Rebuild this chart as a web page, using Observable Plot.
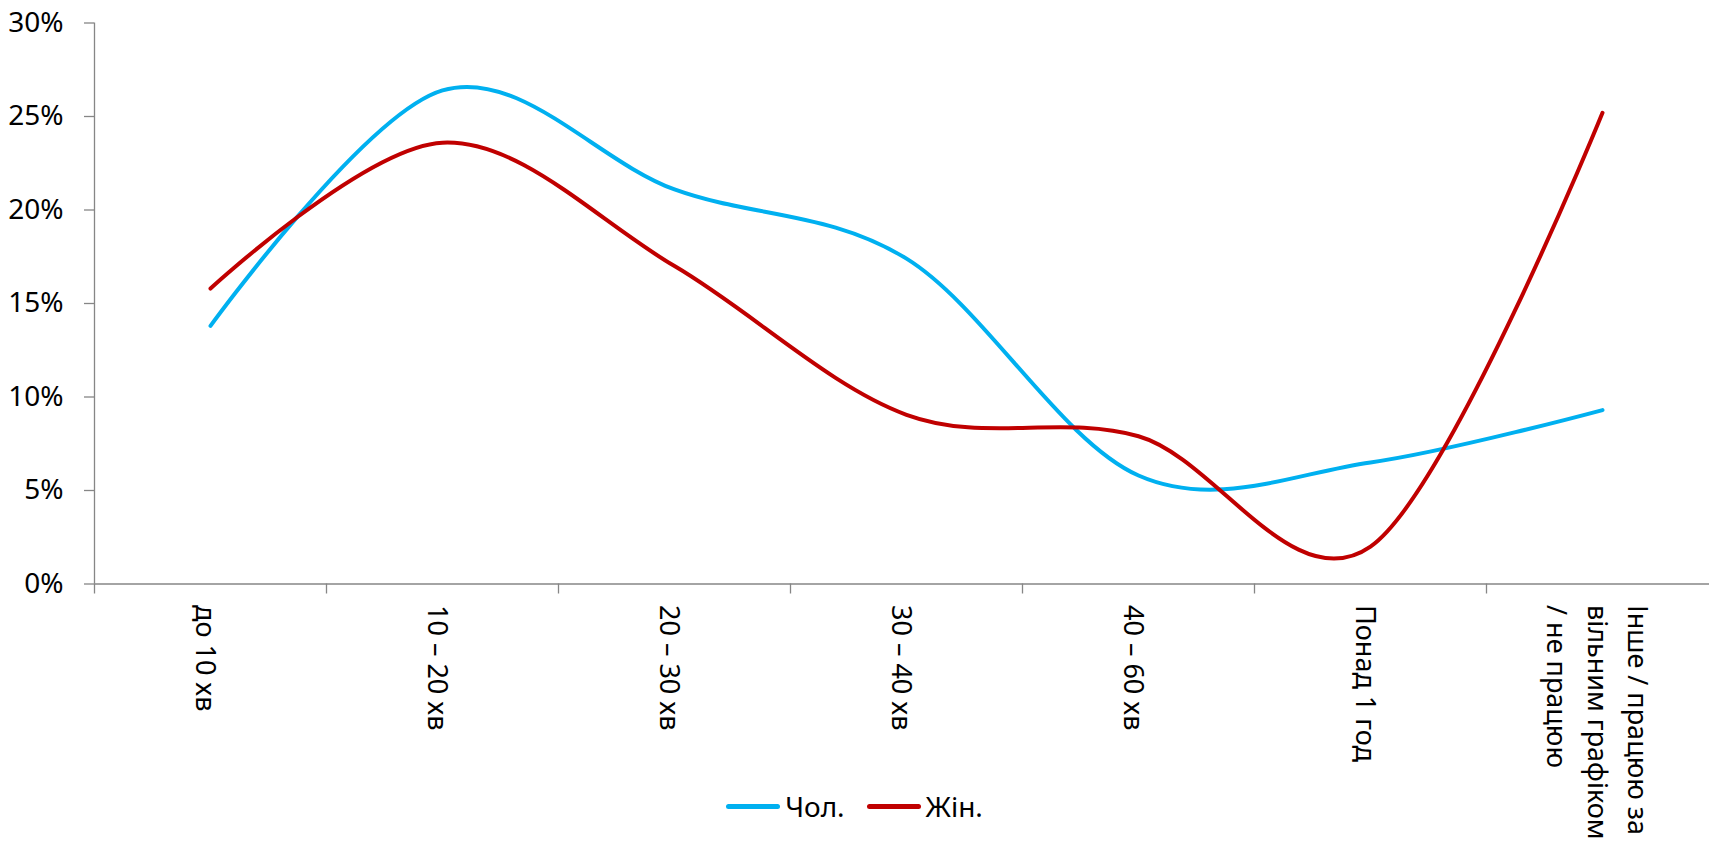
<!DOCTYPE html>
<html>
<head>
<meta charset="utf-8">
<script src="https://cdn.jsdelivr.net/npm/d3@7"></script>
<script src="https://cdn.jsdelivr.net/npm/@observablehq/plot@0.6"></script>
<style>
  html, body { margin: 0; padding: 0; background: #fff; }
  #wrap { position: relative; width: 1709px; height: 845px; font-family: "Noto Sans", sans-serif; }
  #legend { position: absolute; left: 0; top: 786px; width: 1709px; height: 40px;
            display: flex; justify-content: center; align-items: center; font-size: 28px; color: #000; }
  .item { display: flex; align-items: center; margin: 0 11px; }
  .sw { width: 54px; height: 5px; border-radius: 3px; margin-right: 5px; }
</style>
</head>
<body>
<div id="wrap">
  <div id="chart"></div>
  <div id="legend"></div>
</div>
<script>
const categories = [
  "до 10 хв",
  "10 – 20 хв",
  "20 – 30 хв",
  "30 – 40 хв",
  "40 – 60 хв",
  "Понад 1 год",
  "Інше / працюю за\nвільним графіком\n/ не працюю"
];
const seriesNames = ["Чол.", "Жін."];
const male = [13.8, 26.4, 21.1, 17.4, 5.8, 6.5, 9.3];
const female = [15.8, 23.6, 17.0, 9.05, 7.9, 2.0, 25.2];
const seriesColors = ["#00B0F0", "#C00000"];
const yTicks = [0, 5, 10, 15, 20, 25, 30];

const rows = [
  ...male.map((v, i) => ({i, v, s: seriesNames[0]})),
  ...female.map((v, i) => ({i, v, s: seriesNames[1]}))
];

const axisGray = "#868686";

const chart = Plot.plot({
  width: 1709,
  height: 845,
  marginLeft: 94,
  marginRight: 0,
  marginTop: 22.5,
  marginBottom: 261.5,
  style: {fontFamily: "'Noto Sans', sans-serif", fontSize: "28px", color: "#000", background: "#fff"},
  x: {type: "linear", domain: [0, categories.length], range: [94, 94 + 232 * categories.length]},
  y: {domain: [0, 30]},
  color: {domain: seriesNames, range: seriesColors},
  marks: [
    Plot.ruleY([0], {stroke: axisGray, strokeWidth: 1.3}),
    Plot.ruleX([0], {stroke: axisGray, strokeWidth: 1.3}),
    Plot.axisY({ticks: yTicks, tickSize: 10, tickPadding: 21, tickFormat: d => d + "%",
                stroke: axisGray, fill: "#000", fontSize: 28, label: null, strokeWidth: 1.3}),
    Plot.axisX({ticks: d3.range(categories.length), tickSize: 10, tickFormat: () => "",
                stroke: axisGray, label: null, strokeWidth: 1.3}),
    Plot.text(categories, {x: (d, i) => i + 0.5, y: () => 0, text: d => d, rotate: 90,
                           textAnchor: "start", lineAnchor: "middle", dy: 21, dx: -2,
                           fontSize: 27, lineHeight: 1.5, fill: "#000"}),
    Plot.line(rows, {x: d => d.i + 0.5, y: "v", stroke: "s", z: "s", curve: "cardinal",
                     strokeWidth: 4, strokeLinecap: "round", strokeLinejoin: "round"})
  ]
});
document.getElementById("chart").appendChild(chart);

const legend = document.getElementById("legend");
seriesNames.forEach((name, k) => {
  const item = document.createElement("div");
  item.className = "item";
  const sw = document.createElement("div");
  sw.className = "sw";
  sw.style.background = seriesColors[k];
  const t = document.createElement("span");
  t.textContent = name;
  item.appendChild(sw);
  item.appendChild(t);
  legend.appendChild(item);
});
</script>
</body>
</html>
